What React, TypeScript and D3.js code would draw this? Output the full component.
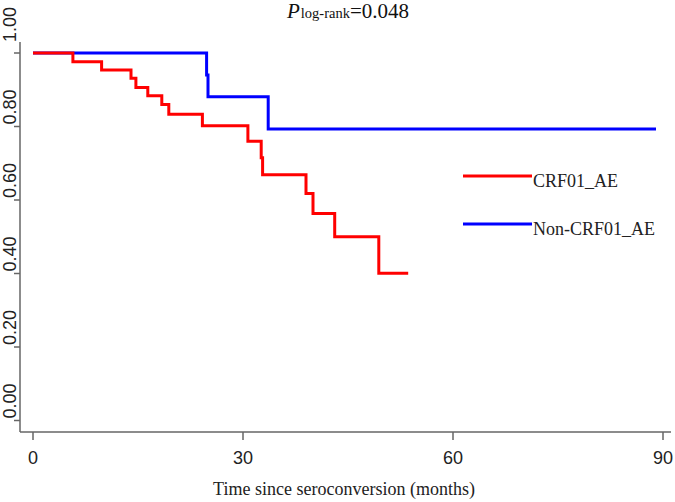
import React from "react";
import * as d3 from "d3";

const redTimes = [0, 5.7, 9.8, 14.0, 14.7, 16.4, 18.4, 19.4, 24.2, 30.7, 32.6, 32.8, 39.0, 40.0, 43.1, 49.4, 53.6];
const redSurv = [1, 0.976, 0.954, 0.931, 0.906, 0.884, 0.86, 0.833, 0.802, 0.76, 0.715, 0.669, 0.618, 0.563, 0.5, 0.401, 0.401];
const blueTimes = [0, 24.8, 25.0, 33.6, 89];
const blueSurv = [1, 0.94, 0.881, 0.793, 0.793];
const xTicks = [0, 30, 60, 90];
const yTicks = [0, 0.2, 0.4, 0.6, 0.8, 1.0];
const seriesNames = ["CRF01_AE", "Non-CRF01_AE"];
const seriesColors = ["#ff0000", "#0000ff"];

export default function App() {
  const W = 675, H = 502;
  const x = d3.scaleLinear().domain([0, 90]).range([33, 663]);
  const y = d3.scaleLinear().domain([0, 1]).range([420.5, 53]);
  const line = d3
    .line<[number, number]>()
    .x((d) => x(d[0]))
    .y((d) => y(d[1]))
    .curve(d3.curveStepAfter);
  const red = redTimes.map((t, i) => [t, redSurv[i]] as [number, number]);
  const blue = blueTimes.map((t, i) => [t, blueSurv[i]] as [number, number]);
  const axisColor = "#666";
  const axisY = 432;
  const axisX = 20;
  const legendY = [176, 224];
  return (
    <svg width={W} height={H} style={{ position: "absolute", left: 0, top: 0, background: "#fff" }}>
      <rect width={W} height={H} fill="#fff" />
      {/* title */}
      <text x={287} y={18} fontFamily="'Liberation Serif', 'Times New Roman', serif" fontSize={21} fill="#111">
        <tspan fontStyle="italic">P</tspan>
        <tspan fontSize={14.5} dx={1}>log-rank</tspan>
        <tspan>=0.048</tspan>
      </text>
      {/* axes */}
      <line x1={axisX} x2={axisX} y1={42} y2={axisY} stroke={axisColor} strokeWidth={1.5} />
      <line x1={axisX} x2={671} y1={axisY} y2={axisY} stroke={axisColor} strokeWidth={1.5} />
      {yTicks.map((v) => (
        <g key={v}>
          <line x1={14} x2={axisX} y1={y(v)} y2={y(v)} stroke={axisColor} strokeWidth={1.5} />
          <text
            transform={`translate(16,${v === 1 ? y(v) - 11 : y(v) - 2}) rotate(-90)`}
            textAnchor="start"
            fontFamily="'Liberation Sans', Arial, sans-serif"
            fontSize={18}
            fill="#222"
          >
            {d3.format(".2f")(v)}
          </text>
        </g>
      ))}
      {xTicks.map((t) => (
        <g key={t}>
          <line x1={x(t)} x2={x(t)} y1={axisY} y2={axisY + 8} stroke={axisColor} strokeWidth={1.5} />
          <text x={x(t)} y={464} textAnchor="middle" fontFamily="'Liberation Sans', Arial, sans-serif" fontSize={18} fill="#222">
            {t}
          </text>
        </g>
      ))}
      <text x={344} y={495} textAnchor="middle" fontFamily="'Liberation Serif', 'Times New Roman', serif" fontSize={18} fill="#222">
        Time since seroconversion (months)
      </text>
      {/* curves */}
      <path d={line(blue) || ""} fill="none" stroke={seriesColors[1]} strokeWidth={3} />
      <path d={line(red) || ""} fill="none" stroke={seriesColors[0]} strokeWidth={3} />
      {/* legend */}
      {seriesNames.map((n, i) => (
        <g key={n}>
          <line x1={463} x2={532} y1={legendY[i]} y2={legendY[i]} stroke={seriesColors[i]} strokeWidth={3} />
          <text x={533} y={legendY[i] + 11} fontFamily="'Liberation Serif', 'Times New Roman', serif" fontSize={18} fill="#222">
            {n}
          </text>
        </g>
      ))}
    </svg>
  );
}
